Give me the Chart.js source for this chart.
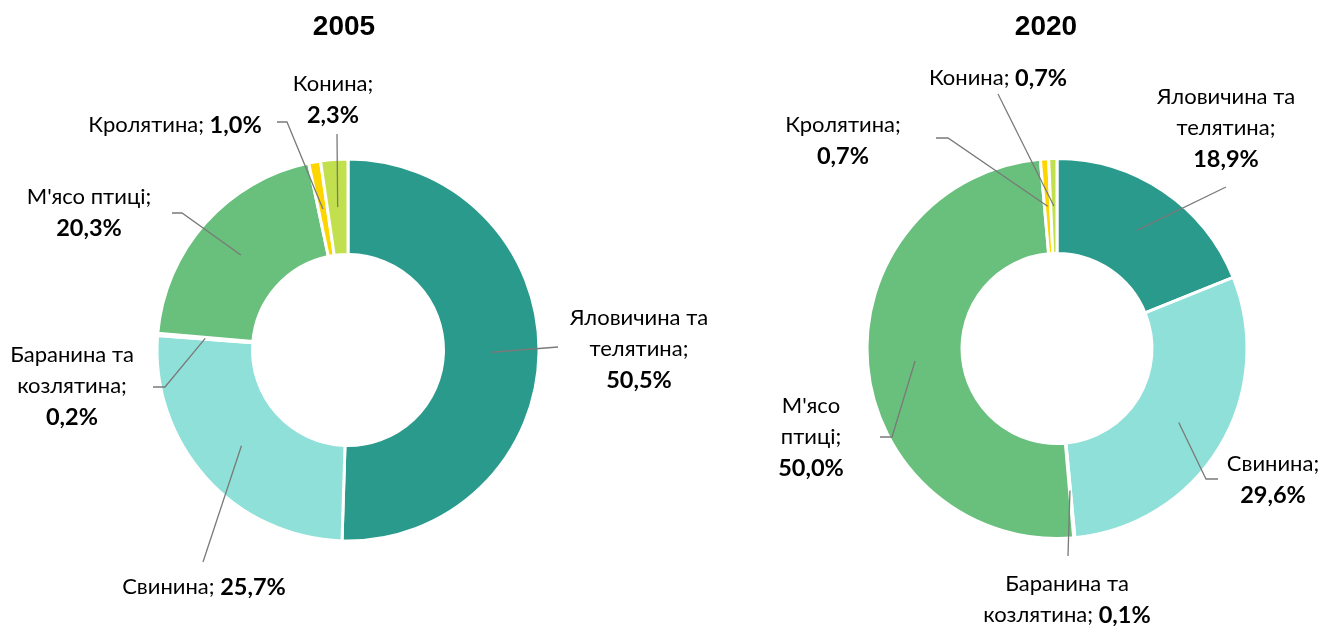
<!DOCTYPE html>
<html>
<head>
<meta charset="utf-8">
<script src="https://cdn.jsdelivr.net/npm/chart.js@4/dist/chart.umd.min.js"></script>
<style>
  html, body { margin:0; padding:0; background:#fff; width:1324px; height:626px; overflow:hidden; }
  canvas { position:absolute; left:0; top:0; }
</style>
</head>
<body>
<canvas id="c1" width="1324" height="700"></canvas>
<canvas id="c2" width="1324" height="700"></canvas>
<script>
// ---- data ----
const categories = ["Яловичина та телятина", "Свинина", "Баранина та козлятина", "М'ясо птиці", "Кролятина", "Конина"];
const years = ["2005", "2020"];
const values2005 = [50.5, 25.7, 0.2, 20.3, 1.0, 2.3];
const values2020 = [18.9, 29.6, 0.1, 50.0, 0.7, 0.7];

// ---- styles / layout ----
const colors = ["#2A9A8C", "#8FE0D8", "#A5A5A5", "#69BF7C", "#FFD500", "#C2DF4E"];
const LABEL_FONT = "Lato, 'Noto Sans', sans-serif";
const LABEL_SIZE = 22;
const VALUE_SIZE = 23.5;
const LINE_H = 31;

// label layout: text centre, words per line, leader path (page coords)
const layout2005 = {
  title: {x: 344, y: 27},
  labels: [
    {x: 639, y: 318, lines: [2, 1, 1], leader: [[558, 347]]},
    {x: 204, y: 587, lines: [2],       leader: [[203, 562]]},
    {x: 72,  y: 355, lines: [2, 1, 1], leader: [[165, 387], [153, 387]]},
    {x: 89,  y: 197, lines: [2, 1],    leader: [[182, 213], [172, 213]]},
    {x: 175, y: 125, lines: [2],       leader: [[287, 122], [277, 122]]},
    {x: 333, y: 84,  lines: [1, 1],    leader: [[337, 134]]}
  ]
};
const layout2020 = {
  title: {x: 1046, y: 27},
  labels: [
    {x: 1226, y: 97,  lines: [2, 1, 1], leader: [[1226, 187]]},
    {x: 1273, y: 464, lines: [1, 1],    leader: [[1206, 479], [1218, 479]]},
    {x: 1067, y: 584, lines: [2, 2],    leader: [[1068, 556]]},
    {x: 811,  y: 406, lines: [1, 1, 1], leader: [[892, 437], [880, 437]]},
    {x: 843,  y: 125, lines: [1, 1],    leader: [[948, 138], [936, 138]]},
    {x: 998,  y: 78,  lines: [2],       leader: [[998, 94]]}
  ]
};

function fmt(v) { return v.toFixed(1).replace('.', ',') + '%'; }

const labelPlugin = {
  id: 'labelPlugin',
  afterDraw(chart, args, opts) {
    const ctx = chart.ctx;
    const meta = chart.getDatasetMeta(0);
    const vals = chart.data.datasets[0].data;
    const lay = opts.layout;
    ctx.save();
    // title
    ctx.font = "bold 28px 'Liberation Sans', Arial, sans-serif";
    ctx.fillStyle = "#000";
    ctx.textAlign = "center";
    ctx.textBaseline = "middle";
    ctx.fillText(opts.title, lay.title.x, lay.title.y);

    lay.labels.forEach((lab, i) => {
      const arc = meta.data[i];
      const p = arc.tooltipPosition();
      // leader line
      ctx.strokeStyle = "#7A7A7A";
      ctx.lineWidth = 1.3;
      ctx.beginPath();
      ctx.moveTo(p.x, p.y);
      lab.leader.forEach(pt => ctx.lineTo(pt[0], pt[1]));
      ctx.stroke();

      // text tokens
      const words = chart.data.labels[i].split(' ');
      words[words.length - 1] += ';';
      const tokens = words.map(w => ({t: w, b: false}));
      tokens.push({t: fmt(vals[i]), b: true});
      const fontOf = s => s.b ? ("bold " + VALUE_SIZE + "px " + LABEL_FONT) : (LABEL_SIZE + "px " + LABEL_FONT);
      let k = 0;
      lab.lines.forEach((n, li) => {
        const segs = tokens.slice(k, k + n);
        k += n;
        const y = lab.y + li * LINE_H;
        const widths = segs.map(s => {
          ctx.font = fontOf(s);
          return ctx.measureText(s.t).width;
        });
        ctx.font = LABEL_SIZE + "px " + LABEL_FONT;
        const sp = ctx.measureText(' ').width;
        const total = widths.reduce((a, b) => a + b, 0) + sp * (segs.length - 1);
        let x = lab.x - total / 2;
        ctx.textAlign = "left";
        ctx.fillStyle = "#000";
        segs.forEach((s, j) => {
          ctx.font = fontOf(s);
          ctx.fillText(s.t, x, y);
          x += widths[j] + sp;
        });
      });
    });
    ctx.restore();
  }
};

function makeChart(id, title, values, lay, padding, radius) {
  return new Chart(document.getElementById(id), {
    type: 'doughnut',
    data: {
      labels: categories,
      datasets: [{
        data: values,
        backgroundColor: colors,
        borderColor: "#FFFFFF",
        borderWidth: 3
      }]
    },
    options: {
      responsive: false,
      animation: false,
      radius: radius,
      cutout: '50%',
      layout: {padding: padding},
      events: [],
      plugins: {
        legend: {display: false},
        tooltip: {enabled: false},
        title: {display: false},
        labelPlugin: {title: title, layout: lay}
      }
    },
    plugins: [labelPlugin]
  });
}

makeChart('c1', years[0], values2005, layout2005, {left: 0, right: 628, top: 0, bottom: 0}, 191);
makeChart('c2', years[1], values2020, layout2020, {left: 790, right: 0, top: 0, bottom: 3}, 190);
</script>
</body>
</html>
